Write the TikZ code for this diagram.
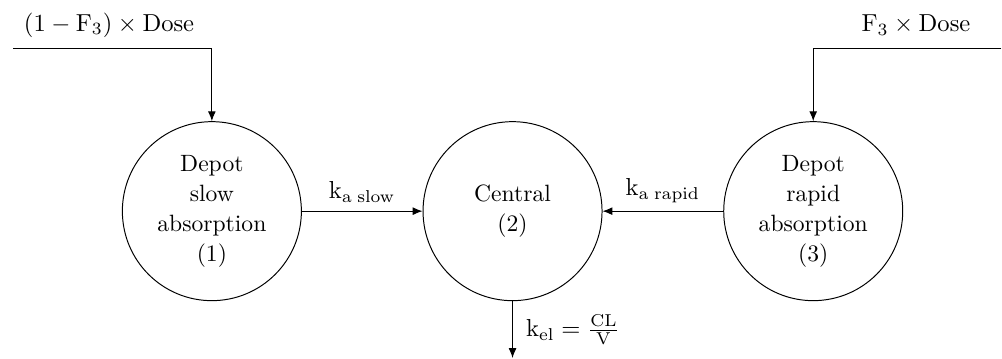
\documentclass[tikz,border=0pt]{standalone}
\usetikzlibrary{arrows.meta}
\begin{document}
\begin{tikzpicture}[
    font=\fontsize{9.6pt}{12.2pt}\selectfont,
    comp/.style={draw, circle, minimum size=2.56cm, align=center, inner sep=0pt},
    flow/.style={-{Latex[length=4pt,width=3.2pt]}}
  ]
    \useasboundingbox (0,0) rectangle (14.33,5.12);

    % Three compartments in one row
    \node[comp] (dep_1) at (3.03,2.10) {Depot\\slow\\absorption\\(1)};
    \node[comp] (cen_2) at (7.33,2.10) {Central\\(2)};
    \node[comp] (dep_3) at (11.63,2.10) {Depot\\rapid\\absorption\\(3)};

    % Dose inputs on top
    \coordinate (in_1) at (0.19,4.43);
    \coordinate (in_3) at (14.32,4.43);
    \node[draw=none] (dose_1) at (1.56,4.76) {$(1-\mathrm{F}_3)\times\mathrm{Dose}$};
    \node[draw=none] (dose_3) at (13.10,4.76) {$\mathrm{F}_3\times\mathrm{Dose}$};

    % Elimination out of the central compartment
    \coordinate (out_2) at (7.33,0);
    \node[draw=none, anchor=west] (k_el) at (7.40,0.40) {$\mathrm{k}_{\mathrm{el}}=\frac{\mathrm{CL}}{\mathrm{V}}$};

    % Connections
    \draw[flow] (in_1) -| (dep_1);
    \draw[flow] (in_3) -| (dep_3);

    \draw[flow] (dep_1) -- node[above] (k_slow) {$\mathrm{k}_{\mathrm{a}\;\mathrm{slow}}$} (cen_2);
    \draw[flow] (dep_3) -- node[above] (k_rapid) {$\mathrm{k}_{\mathrm{a}\;\mathrm{rapid}}$} (cen_2);

    \draw[flow] (cen_2) -- (out_2);

\end{tikzpicture}
\end{document}
